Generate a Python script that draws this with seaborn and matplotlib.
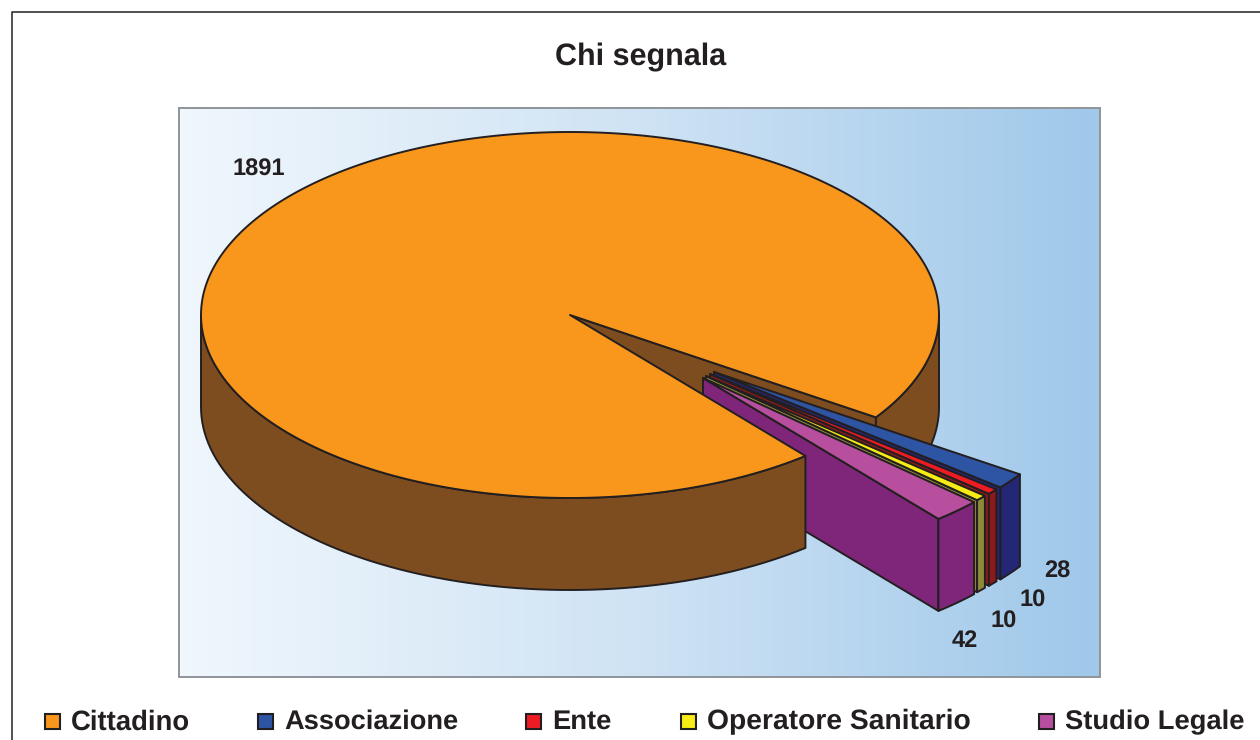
import numpy as np
import matplotlib
matplotlib.use("Agg")
import matplotlib.pyplot as plt
from matplotlib.colors import LinearSegmentedColormap
from matplotlib.patches import Polygon, Rectangle
import seaborn as sns

categories = ["Cittadino", "Associazione", "Ente", "Operatore Sanitario", "Studio Legale"]
values = [1891, 28, 10, 10, 42]
top_colors = ["#F9971C", "#2E54A4", "#ED1C24", "#F7EC13", "#B84F9E"]
side_colors = ["#7E4D1F", "#242776", "#8C1A1B", "#8D8B3A", "#7F267B"]

# layout, in picture pixels
CX, CY, RX, RY, DEPTH = 570, 315, 369, 183, 92
START_ANGLE = 34
EXPLODE = {1: (144, 57), 2: (140, 59), 3: (136, 61), 4: (133, 63)}
LABEL_POS = [(259, 170), (1057, 572), (1033, 601), (1004, 622), (965, 641)]
LEGEND_X = [45, 258, 526, 681, 1039]
LEGEND_SIZE = [19.8, 19.6, 19.7, 20.3, 19.7]
LINE = "#231F20"

sns.set_theme(style="white")
plt.rcParams["font.family"] = ["Liberation Sans", "DejaVu Sans"]
plt.rcParams["text.hinting"] = "none"

fig = plt.figure(figsize=(12.6, 7.4), dpi=100)
ax = fig.add_axes([0, 0, 1, 1])
ax.set_xlim(0, 1260)
ax.set_ylim(740, 0)
ax.axis("off")


def rim(a1, a2, ox=0, oy=0, n=80):
    t = np.radians(np.linspace(a1, a2, n))
    return np.column_stack([CX + ox + RX * np.cos(t), CY + oy + RY * np.sin(t)])


def poly(pts, color, z):
    ax.add_patch(Polygon(pts, closed=True, facecolor=color, edgecolor=LINE,
                         linewidth=1.4, joinstyle="round", zorder=z))


def wall(a, ox, oy, color, z):
    p = rim(a, a, ox, oy, 1)[0]
    c = np.array([CX + ox, CY + oy])
    d = np.array([0, DEPTH])
    poly([c, p, p + d, c + d], color, z)


def outer(a1, a2, ox, oy, color, z):
    arc = rim(a1, a2, ox, oy)
    poly(np.vstack([arc, arc[::-1] + [0, DEPTH]]), color, z)


# frame and plot area
ax.plot([12, 12, 1260], [740, 12, 12], color=LINE, lw=1.1, zorder=1)
cmap = LinearSegmentedColormap.from_list("bg", ["#F0F7FD", "#CFE3F4", "#9FC8EA"])
ax.imshow(np.linspace(0, 1, 256).reshape(1, -1), cmap=cmap, aspect="auto",
          extent=(179, 1100, 677, 108), zorder=1)
ax.set_xlim(0, 1260)
ax.set_ylim(740, 0)
ax.add_patch(Rectangle((179, 108), 921, 569, fill=False, edgecolor="#8E9499", lw=1.4, zorder=2))

# slice angles, clockwise on screen: the small slices come first, from START_ANGLE
spans = np.array(values) / sum(values) * 360
edges = START_ANGLE + np.cumsum(spans[1:])
starts = np.concatenate([[START_ANGLE], edges[:-1]])
main_start = edges[-1]

# back of the big slice
wall(START_ANGLE, 0, 0, side_colors[0], 3)
outer(0, START_ANGLE, 0, 0, side_colors[0], 3)

# exploded slices, back to front
for i in range(1, len(values)):
    a1, a2 = starts[i - 1], edges[i - 1]
    ox, oy = EXPLODE[i]
    z = 4 + i
    wall(a2, ox, oy, side_colors[i], z)
    outer(a1, a2, ox, oy, side_colors[i], z)
    poly(np.vstack([[CX + ox, CY + oy], rim(a1, a2, ox, oy)]), top_colors[i], z)

# front of the big slice and its top
outer(main_start, 180, 0, 0, side_colors[0], 10)
poly(np.vstack([[CX, CY], rim(main_start, START_ANGLE + 360, n=400)]), top_colors[0], 11)

# value labels
for pos, v in zip(LABEL_POS, values):
    ax.text(pos[0], pos[1], str(v), ha="center", va="center", fontsize=17,
            fontweight="bold", color=LINE, zorder=12)

ax.text(641, 57, "Chi segnala", ha="center", va="center", fontsize=22,
        fontweight="bold", color=LINE, zorder=12)

# legend
for x, name, color, size in zip(LEGEND_X, categories, top_colors, LEGEND_SIZE):
    ax.add_patch(Rectangle((x, 714), 15, 15, facecolor=color, edgecolor=LINE, lw=1.5, zorder=12))
    ax.text(x + 26, 722, name, ha="left", va="center", fontsize=size,
            fontweight="bold", color=LINE, zorder=12)

fig.savefig("out.png", dpi=100, facecolor="white")
